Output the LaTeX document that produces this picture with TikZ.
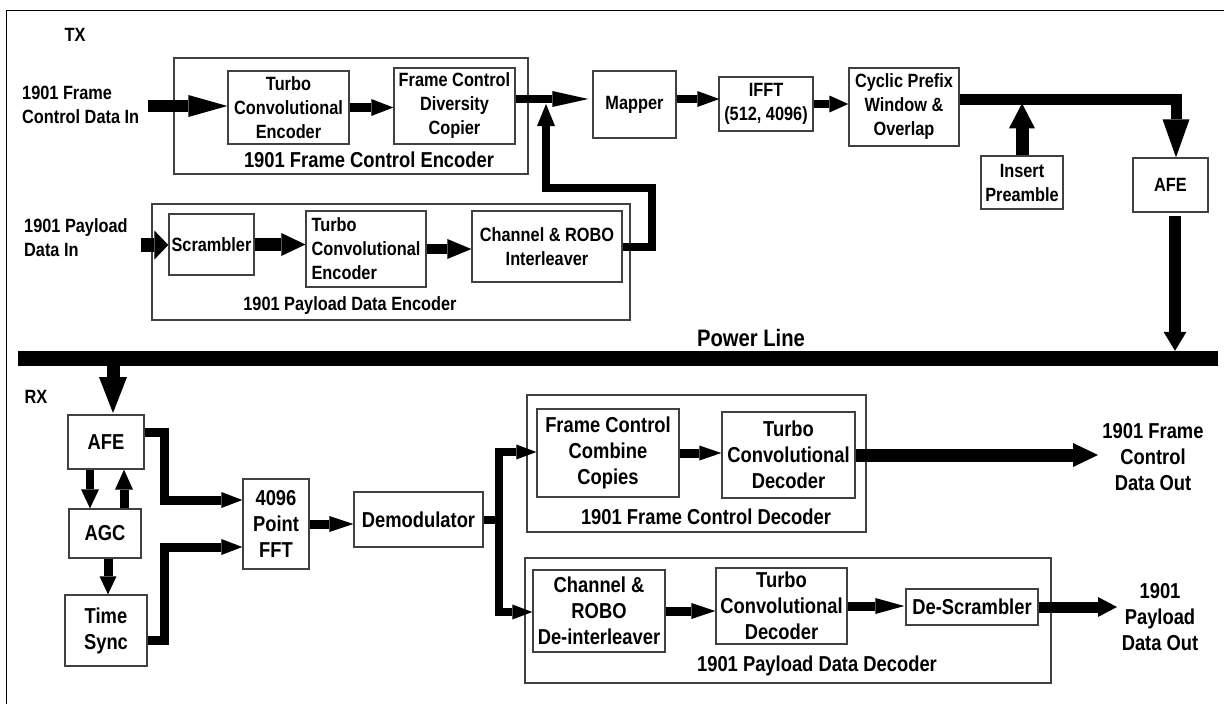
\documentclass[tikz,border=0pt]{standalone}
\usepackage{fontspec}
\setmainfont{Liberation Sans}[FakeStretch=0.85]
\usetikzlibrary{arrows.meta,calc}

\tikzset{
  box/.style={draw=black!75, line width=1.3pt, fill=white, inner sep=0pt, align=center},
  grp/.style={draw=black!75, line width=1.3pt, inner sep=0pt},
  txf/.style={font=\fontsize{19.2}{24}\selectfont\bfseries, inner sep=0pt},
  rxf/.style={font=\fontsize{21.6}{26}\selectfont\bfseries, inner sep=0pt},
  plf/.style={font=\fontsize{23.8}{28}\selectfont\bfseries, inner sep=0pt},
  arr/.style n args={3}{draw=black, line width=#1pt,
    -{Triangle[length=#2pt,width=#3pt,line width=0pt]}},
}

\begin{document}
\begin{tikzpicture}[x=1pt,y=-1pt]
\useasboundingbox (0,0) rectangle (1224,704);

% page frame
\draw[line width=1pt] (1224,10.5) -- (6,10.5) -- (6,704);

% ---------------- transmitter ----------------
\node[txf] (tx) at (75,35) {TX};
\node[txf, anchor=west, align=left] (fcinl) at (22,105) {1901 Frame\\Control Data In};
\node[txf, anchor=west, align=left] (pdinl) at (24,237.5) {1901 Payload\\Data In};

\node[grp, minimum width=354pt, minimum height=116pt] (fce) at (351,116) {};
\node[rxf] (fcel) at (369,160) {1901 Frame Control Encoder};
\node[box, txf, minimum width=121pt, minimum height=73pt] (tce) at (288.5,107.5) {Turbo\\Convolutional\\Encoder};
\node[box, txf, minimum width=121pt, minimum height=76pt] (fcdc) at (454.5,106) {Frame Control\\Diversity\\Copier};

\node[grp, minimum width=478pt, minimum height=116pt] (pde) at (391,262) {};
\node[txf] (pdel) at (350,306) {1901 Payload Data Encoder};
\node[box, txf, minimum width=85pt, minimum height=61pt] (scr) at (211.5,244.5) {Scrambler};
\node[box, txf, align=left, minimum width=120pt, minimum height=76pt] (tce2) at (366,249) {Turbo\\Convolutional\\Encoder};
\node[box, txf, minimum width=150pt, minimum height=71pt] (ril) at (547,246.5) {Channel \& ROBO\\Interleaver};

\node[box, txf, minimum width=83pt, minimum height=67pt] (mapper) at (634.5,104.5) {Mapper};
\node[box, txf, minimum width=94pt, minimum height=54pt] (ifft) at (766,104) {IFFT\\(512, 4096)};
\node[box, txf, minimum width=110pt, minimum height=78pt] (cp) at (904,107) {Cyclic Prefix\\Window \&\\Overlap};
\node[box, txf, minimum width=82pt, minimum height=53pt] (pre) at (1022,182.5) {Insert\\Preamble};
\node[box, txf, minimum width=75pt, minimum height=54pt] (afeT) at (1170.5,185) {AFE};

% power line
\node[fill=black, inner sep=0pt, minimum width=1200pt, minimum height=15pt] (pl) at (618,358.5) {};
\node[plf] (pll) at (751,338) {Power Line};

% TX connectors
\coordinate (fcsrc) at (148,106);
\draw[arr={12}{39}{22}] (fcsrc) -- (fcsrc -| tce.west);
\draw[arr={9}{22}{17}] (tce.east) -- (tce.east -| fcdc.west);
\draw[arr={8}{36}{16}] ($(fcdc.east)+(0,-7)$) -- ($(mapper.west)+(-4,-5.5)$);
\coordinate (j1) at (652,188);
\coordinate (jt) at (546,104);
\draw[arr={8}{22}{18}] (ril.east) -| (j1) -| (jt);
\draw[arr={8}{22}{16}] ($(mapper.east)+(0,-5.5)$) -- ($(ifft.west)+(1,-5)$);
\draw[arr={8}{19}{17}] (ifft.east) -- (ifft.east -| cp.west);
\draw[arr={11}{38}{27}] ($(cp.east)+(0,-8)$) -| ($(afeT.north)+(5.5,0)$);
\draw[arr={13}{25}{26}] (pre.north) -- ++(0,-52);
\coordinate (afeTo) at ($(afeT.south)+(4.5,3)$);
\draw[arr={12}{19}{23}] (afeTo) -- (afeTo |- pl.north);

\coordinate (pdsrc) at (141,245);
\draw[arr={14}{14}{29}] (pdsrc) -- (pdsrc -| scr.west);
\draw[arr={13}{24}{23}] (scr.east) -- (scr.east -| tce2.west);
\draw[arr={10}{24}{20}] (tce2.east) -- (tce2.east -| ril.west);

% ---------------- receiver ----------------
\node[txf] (rx) at (36,397) {RX};
\node[box, rxf, minimum width=76pt, minimum height=54pt] (afeR) at (106,442) {AFE};
\node[box, rxf, minimum width=72pt, minimum height=49pt] (agc) at (105,533.5) {AGC};
\node[box, rxf, minimum width=82pt, minimum height=71pt] (ts) at (106,630.5) {Time\\Sync};
\node[box, rxf, minimum width=66pt, minimum height=90pt] (fft) at (276,524) {4096\\Point\\FFT};
\node[box, rxf, minimum width=129pt, minimum height=55pt] (dem) at (418.5,519.5) {Demodulator};

\node[grp, minimum width=339pt, minimum height=137pt] (fcd) at (696.5,463.5) {};
\node[rxf] (fcdl) at (706,517) {1901 Frame Control Decoder};
\node[box, rxf, minimum width=142pt, minimum height=88pt] (fccc) at (608,453) {Frame Control\\Combine\\Copies};
\node[box, rxf, minimum width=133pt, minimum height=86pt] (tcd1) at (788.5,455) {Turbo\\Convolutional\\Decoder};

\node[grp, minimum width=526pt, minimum height=125pt] (pdd) at (788,620.5) {};
\node[rxf] (pddl) at (817,666) {1901 Payload Data Decoder};
\node[box, rxf, minimum width=132pt, minimum height=82pt] (rdi) at (599,611) {Channel \&\\ROBO\\De-interleaver};
\node[box, rxf, minimum width=131pt, minimum height=76pt] (tcd2) at (781.5,606) {Turbo\\Convolutional\\Decoder};
\node[box, rxf, minimum width=132pt, minimum height=36pt] (dsc) at (972,607) {De-Scrambler};

\node[rxf, align=center] (fcol) at (1153,457) {1901 Frame\\Control\\Data Out};
\node[rxf, align=center] (pdol) at (1160,617) {1901\\Payload\\Data Out};

% RX connectors
\coordinate (rxa) at (113,413);
\draw[arr={13}{36}{28}] (rxa |- pl.south) -- (rxa);
\draw[arr={8}{19}{18}] ($(afeR.south)+(-16,0)$) -- ($(agc.north)+(-15,0)$);
\draw[arr={9}{20}{18}] ($(agc.north)+(19,0)$) -- ($(afeR.south)+(18,0)$);
\draw[arr={9}{18}{17}] ($(agc.south)+(3,0)$) -- ($(ts.north)+(2,0)$);
\coordinate (k1) at (164,500);
\coordinate (k2) at (164,547);
\draw[arr={9}{21}{16}] ($(afeR.east)+(0,-10)$) -| (k1) -- (k1 -| fft.west);
\draw[arr={9}{21}{16}] ($(ts.east)+(0,9.5)$) -| (k2) -- (k2 -| fft.west);
\draw[arr={9}{24}{16}] (fft.east) -- (fft.east -| dem.west);
\coordinate (bt) at (499,452);
\coordinate (bb) at (499,612);
\draw[arr={8}{20}{15}] (dem.east) -| (bt) -- (bt -| fccc.west);
\draw[arr={8}{20}{15}] (dem.east) -| (bb) -- (bb -| rdi.west);
\draw[arr={9}{22}{15}] (fccc.east) -- (fccc.east -| tcd1.west);
\coordinate (fcout) at (1098,453);
\draw[arr={13}{25}{24}] (tcd1.east) -- (tcd1.east -| fcout);
\draw[arr={9}{24}{16}] (rdi.east) -- (rdi.east -| tcd2.west);
\draw[arr={9}{29}{16}] (tcd2.east) -- ($(tcd2.east -| dsc.west)+(-1,0)$);
\coordinate (pdout) at (1117,610);
\draw[arr={11}{19}{20}] (dsc.east) -- (dsc.east -| pdout);
\end{tikzpicture}
\end{document}
